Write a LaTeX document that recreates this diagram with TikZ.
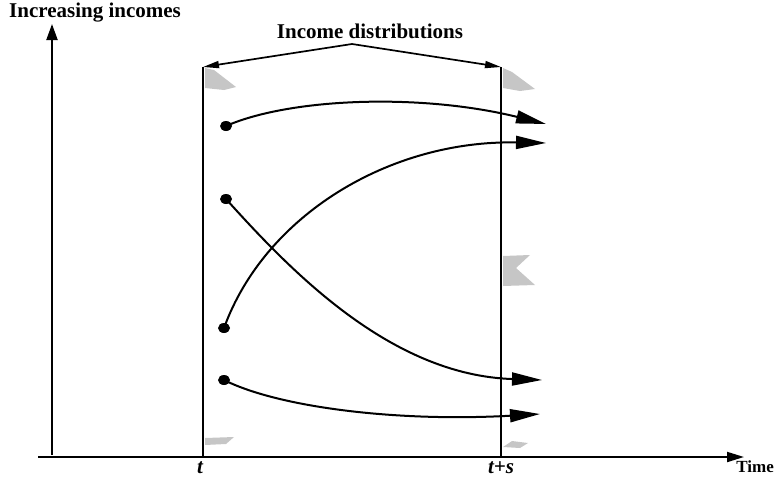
\documentclass[tikz,border=0pt]{standalone}
\usepackage{fontspec}
\setmainfont{Liberation Serif}
\usetikzlibrary{arrows.meta,shapes.geometric}
\begin{document}
\begin{tikzpicture}[x=1pt,y=-1pt,
  axis/.style={line width=2pt},
  bar/.style={line width=2.8pt},
  flow/.style={line width=2pt,-{Triangle[length=30pt,width=13pt]}},
  pointer/.style={line width=1.7pt,-{Triangle[length=16pt,width=7pt]}},
  dot/.style={ellipse,fill=black,inner sep=0pt,minimum width=12pt,minimum height=10pt},
  lab/.style={font=\bfseries\fontsize{21}{25}\selectfont,inner sep=0pt},
  ilab/.style={font=\bfseries\itshape\fontsize{21}{25}\selectfont,inner sep=0pt},
  shade/.style={fill=gray!45,draw=none}]
\useasboundingbox (0,0) rectangle (775,477);
% axes
\coordinate (o) at (52,455);
\coordinate (ytop) at (52,24);
\coordinate (xl) at (38,457);
\coordinate (xr) at (744,457);
\draw[axis,-{Triangle[length=16pt,width=11pt]}] (o) -- (ytop);
\draw[axis,-{Triangle[length=17pt,width=10pt]}] (xl) -- (xr);
\node[lab,anchor=west] (yl) at (9,13) {Increasing incomes};
\node[lab,font=\bfseries\fontsize{17}{20}\selectfont,anchor=east] (tl) at (774,467) {Time};
% vertical bars
\coordinate (lt) at (203,67);
\coordinate (lb) at (203,457);
\coordinate (rt) at (501,67);
\coordinate (rb) at (501,457);
\draw[bar] (lt) -- (lb);
\draw[bar] (rt) -- (rb);
\node[ilab] (t) at (200,468) {t};
\node[ilab] (ts) at (501,468) {t+s};
% shaded distributions
\fill[shade] (205,68) -- (214,70) -- (236,87) -- (224,90) -- (205,88) -- cycle;
\fill[shade] (503,68) -- (512,72) -- (535,89) -- (520,91) -- (503,88) -- cycle;
\fill[shade] (503,256) -- (530,255) -- (516,268) -- (535,285) -- (503,286) -- cycle;
\fill[shade] (205,438) -- (234,437) -- (226,444) -- (205,445) -- cycle;
\fill[shade] (503,447) -- (512,441) -- (528,443) -- (520,448) -- cycle;
% label and pointers
\node[lab] (id) at (370,31) {Income distributions};
\coordinate (ia) at (352,44);
\draw[pointer] (ia) -- (lt);
\draw[pointer] (ia) -- (rt);
% flows
\node[dot] (a) at (226,126) {};
\node[dot] (b) at (226,199) {};
\node[dot] (c) at (224,328) {};
\node[dot] (d) at (224,380) {};
\coordinate (ea) at (546,124);
\coordinate (eb) at (542,380);
\coordinate (ec) at (546,143);
\coordinate (ed) at (540,414);
\draw[flow] (a.center) .. controls (290,98) and (420,93) .. (ea);
\draw[flow] (b.center) .. controls (290,270) and (390,375) .. (eb);
\draw[flow] (c.center) .. controls (265,215) and (390,140) .. (ec);
\draw[flow] (d.center) .. controls (280,408) and (400,422) .. (ed);
\end{tikzpicture}
\end{document}
